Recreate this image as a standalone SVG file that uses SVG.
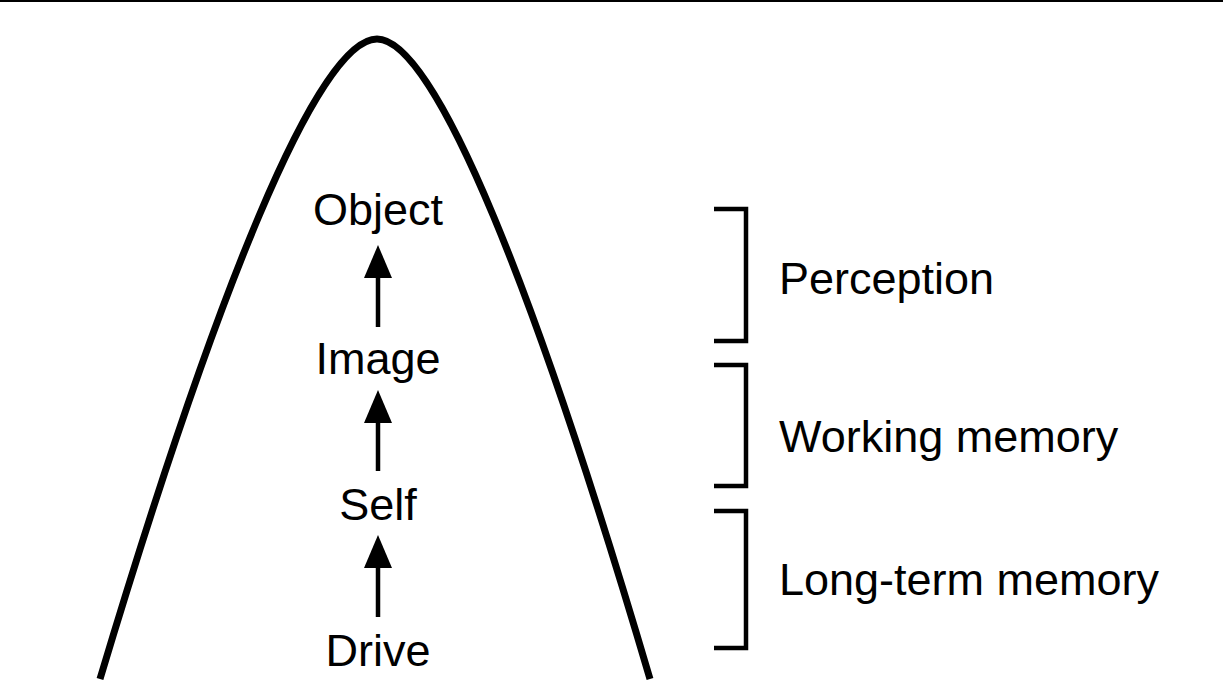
<svg xmlns="http://www.w3.org/2000/svg" width="1223" height="700" viewBox="0 0 1223 700">
<style>
.lbl{font-family:"Liberation Sans",Arial,sans-serif;font-size:45px;fill:#000}
.mid{text-anchor:middle}
.curve{fill:none;stroke:#000;stroke-width:7;stroke-linecap:butt}
.shaft{stroke:#000;stroke-width:4.5;fill:none}
.head{fill:#000}
.brk{fill:none;stroke:#000;stroke-width:4.5;stroke-linecap:butt;stroke-linejoin:miter}
</style>
<rect width="1223" height="700" fill="#fff"/>
<rect x="0" y="0" width="1223" height="2" fill="#000"/>
<g id="curve">
<path class="curve" d="M100,679 C214,299 317,39 377,39 C436,39 538,299 650,679"/>
</g>
<g id="node-object"><text class="lbl mid" x="378" y="225">Object</text></g>
<g id="node-image"><text class="lbl mid" x="378" y="374">Image</text></g>
<g id="node-self"><text class="lbl mid" x="378" y="520">Self</text></g>
<g id="node-drive"><text class="lbl mid" x="378" y="666">Drive</text></g>
<g id="connectors">
<line class="shaft" x1="378" y1="327" x2="378" y2="272"/>
<polygon class="head" points="378,245 364,278 392,278"/>
<line class="shaft" x1="378" y1="471" x2="378" y2="418"/>
<polygon class="head" points="378,390 364,423 392,423"/>
<line class="shaft" x1="378" y1="617" x2="378" y2="563"/>
<polygon class="head" points="378,535 364,568 392,568"/>
</g>
<g id="bracket-perception">
<path class="brk" d="M714,209 H746 V341 H714"/>
<text class="lbl" x="779" y="294">Perception</text>
</g>
<g id="bracket-working">
<path class="brk" d="M714,365 H746 V486 H714"/>
<text class="lbl" x="779" y="452">Working memory</text>
</g>
<g id="bracket-longterm">
<path class="brk" d="M714,511 H746 V648 H714"/>
<text class="lbl" x="779" y="595">Long-term memory</text>
</g>
</svg>
